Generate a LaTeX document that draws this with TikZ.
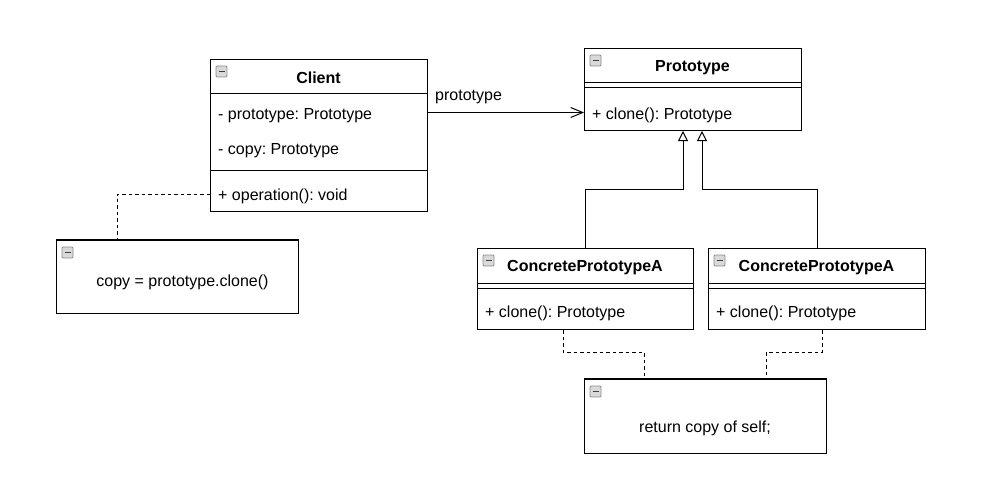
\documentclass[tikz,border=0pt]{standalone}
\usepackage{fontspec}
\setmainfont{Liberation Sans}
\usetikzlibrary{arrows.meta}
\frenchspacing
\newcommand\umlicon[1]{%
  \draw[iconbox] ([shift={(6,7)}]#1.north west) rectangle ++(11,11);
  \draw[iconbar] ([shift={(8.5,12.5)}]#1.north west) -- ++(6,0);}
\begin{document}
\begin{tikzpicture}[x=1pt,y=-1pt,
  box/.style={draw=black, line width=1pt, fill=white, inner sep=0pt, anchor=north west},
  divider/.style={draw=black, line width=1pt},
  txt/.style={font=\fontsize{16}{19}\selectfont, inner sep=0pt, anchor=base west},
  ttl/.style={font=\fontsize{16}{19}\selectfont\bfseries, inner sep=0pt, anchor=base},
  ntxt/.style={font=\fontsize{16}{19}\selectfont, inner sep=0pt, anchor=base},
  iconbox/.style={draw=black!45, fill=black!15, line width=0.8pt, rounded corners=1pt},
  iconbar/.style={draw=black!75, line width=1.4pt},
  assoc/.style={draw=black, line width=1pt, -{Straight Barb[length=12pt,width=10pt,line width=1pt]}},
  gen/.style={draw=black, line width=1pt, -{Triangle[open,length=10pt,width=10pt,line width=1pt]}},
  notelink/.style={draw=black, line width=1pt, dash pattern=on 3.5pt off 3pt},
]
\useasboundingbox[fill=white] (0,0) rectangle (983,487);

% Client
\node[box, minimum width=217pt, minimum height=152pt] (client) at (210,59) {};
\draw[divider] ([yshift=-35pt]client.north west) -- ([yshift=-35pt]client.north east);
\draw[divider] ([yshift=-111.5pt]client.north west) -- ([yshift=-111.5pt]client.north east);
\umlicon{client}
\node[ttl] (clientT) at (318.5,83.3) {Client};
\node[txt] (c1) at (218,119.5) {- prototype: Prototype};
\node[txt] (c2) at (218,154) {- copy: Prototype};
\node[txt] (c3) at (218,200) {+ operation(): void};

% Prototype
\node[box, minimum width=217pt, minimum height=82pt] (proto) at (584,48) {};
\draw[divider] ([yshift=-35pt]proto.north west) -- ([yshift=-35pt]proto.north east);
\draw[divider] ([yshift=-40pt]proto.north west) -- ([yshift=-40pt]proto.north east);
\umlicon{proto}
\node[ttl] (protoT) at (692.5,71.7) {Prototype};
\node[txt] (p1) at (592,119) {+ clone(): Prototype};

% ConcretePrototypeA (left)
\node[box, minimum width=216pt, minimum height=81pt] (cpa1) at (477,248) {};
\draw[divider] ([yshift=-35pt]cpa1.north west) -- ([yshift=-35pt]cpa1.north east);
\draw[divider] ([yshift=-40pt]cpa1.north west) -- ([yshift=-40pt]cpa1.north east);
\umlicon{cpa1}
\node[ttl] (cpa1T) at (585,271.7) {ConcretePrototypeA};
\node[txt] (a1) at (485,317.3) {+ clone(): Prototype};

% ConcretePrototypeA (right)
\node[box, minimum width=217pt, minimum height=81pt] (cpa2) at (708,248) {};
\draw[divider] ([yshift=-35pt]cpa2.north west) -- ([yshift=-35pt]cpa2.north east);
\draw[divider] ([yshift=-40pt]cpa2.north west) -- ([yshift=-40pt]cpa2.north east);
\umlicon{cpa2}
\node[ttl] (cpa2T) at (816.5,271.7) {ConcretePrototypeA};
\node[txt] (b1) at (716,317.3) {+ clone(): Prototype};

% Notes
\node[box, minimum width=242pt, minimum height=73pt] (note1) at (56,240) {};
\draw[line width=1.6pt] (note1.north west) -- (note1.north east);
\umlicon{note1}
\node[ntxt] (n1) at (182.5,286.7) {copy = prototype.clone()};

\node[box, minimum width=242pt, minimum height=74pt] (note2) at (584,379) {};
\draw[line width=1.6pt] (note2.north west) -- (note2.north east);
\umlicon{note2}
\node[ntxt] (n2) at (705,432.7) {return copy of self;};

% Connectors
\draw[assoc] (client.east |- 0,112.5) -- (proto.west |- 0,112.5);
\node[txt] (lbl) at (435,100) {prototype};

\draw[gen] (cpa1.north) -- ++(0,-59) -| ([xshift=-10pt]proto.south);
\draw[gen] (cpa2.north) -- ++(0,-59) -| ([xshift=9pt]proto.south);

\draw[notelink] (client.west |- 0,194) -| (note1.north -| 117,0);
\draw[notelink] (cpa1.south -| 563,0) -- (563,352) -| (note2.north -| 644,0);
\draw[notelink] (cpa2.south -| 822,0) -- (822,352) -| (note2.north -| 766,0);
\end{tikzpicture}
\end{document}
